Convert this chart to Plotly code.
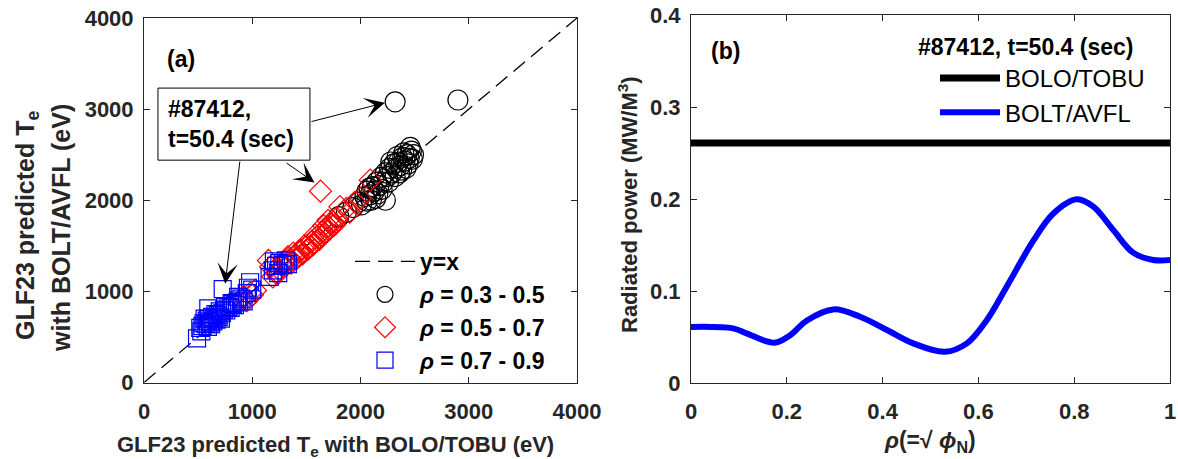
import plotly.graph_objects as go

# ---------------- data: panel (a) ----------------
line_yx = [0, 4000]

black_x = [1800, 1870, 1930, 1980, 2010, 2040, 2060, 2090, 2110, 2130, 2150, 2170, 2190, 2210, 2230,
           2250, 2270, 2290, 2310, 2330, 2350, 2370, 2390, 2410, 2430, 2450, 2470, 2490, 2460, 2400,
           2340, 2280, 2230, 2320, 2900, 2100, 2160, 2060, 2440, 2380, 2200, 2260, 2320, 2420, 2480,
           2140, 2080, 2360]
black_y = [1820, 1870, 1920, 1980, 1950, 2040, 2100, 2060, 2150, 2100, 2200, 2160, 2250, 2200, 2300,
           2260, 2350, 2300, 2400, 2350, 2420, 2380, 2470, 2430, 2500, 2460, 2540, 2500, 2580, 2520,
           2480, 2420, 2000, 3080, 3100, 2000, 2070, 1990, 2400, 2330, 2120, 2200, 2260, 2350, 2450,
           2020, 2130, 2300]

red_x = [920, 980, 1030, 950, 1000, 1150, 1170, 1190, 1220, 1250, 1280, 1300, 1320, 1350, 1370,
         1400, 1420, 1450, 1470, 1500, 1520, 1550, 1570, 1600, 1620, 1650, 1670, 1700, 1720, 1750,
         1780, 1810, 1870, 1630, 2090, 1660, 1700, 1580, 1480, 1430, 1330, 1260, 1380, 1540, 1600,
         1760, 1720, 1900, 1240, 1360, 1460, 1560, 1640, 1690, 1740, 1410, 1510, 2000, 1950]
red_y = [940, 980, 1010, 900, 960, 1340, 1270, 1160, 1200, 1240, 1280, 1330, 1290, 1360, 1330,
         1400, 1380, 1450, 1420, 1500, 1470, 1550, 1530, 1600, 1570, 1660, 1640, 1710, 1690, 1760,
         1800, 1930, 1910, 2100, 2220, 1720, 1780, 1620, 1500, 1440, 1380, 1300, 1420, 1500, 1560,
         1730, 1750, 1870, 1200, 1310, 1410, 1510, 1610, 1660, 1720, 1360, 1460, 2020, 1980]

blue_x = [490, 727, 594, 520, 540, 550, 570, 580, 600, 610, 630, 650, 660, 680, 700, 720, 740, 760,
          780, 800, 820, 840, 860, 880, 900, 920, 560, 530, 620, 690, 750, 810, 870, 950, 980, 1000,
          960, 1160, 1190, 1220, 1250, 1280, 1310, 1330, 1200, 1240, 640, 710, 590, 670]
blue_y = [485, 1025, 814, 600, 620, 650, 640, 680, 700, 660, 720, 700, 750, 740, 780, 760, 800, 790,
          830, 820, 860, 850, 880, 900, 920, 890, 700, 560, 640, 720, 830, 870, 940, 980, 1100, 1020,
          1040, 1160, 1230, 1280, 1310, 1290, 1340, 1300, 1330, 1200, 670, 700, 610, 690]

ticks_a = [0, 1000, 2000, 3000, 4000]

# ---------------- data: panel (b) ----------------
rho = [0.0, 0.088, 0.116, 0.174, 0.207, 0.242, 0.297, 0.353, 0.409, 0.464, 0.530, 0.576, 0.617,
       0.659, 0.715, 0.756, 0.805, 0.840, 0.882, 0.923, 0.965, 1.0]
p_bolt = [0.061, 0.0594, 0.054, 0.0438, 0.052, 0.068, 0.080, 0.072, 0.0576, 0.0431, 0.034, 0.0431,
          0.068, 0.1047, 0.155, 0.184, 0.1997, 0.1917, 0.166, 0.1417, 0.1337, 0.1337]
rho_bolo = [0.0, 1.0]
p_bolo = [0.261, 0.261]
ticks_bx = [0, 0.2, 0.4, 0.6, 0.8, 1]
ticks_by = [0, 0.1, 0.2, 0.3, 0.4]

FONT = "Liberation Sans, Arial, sans-serif"
AX = "#262626"
W, H = 1178, 459

def px(x):
    return x / W

def py(y):
    return 1 - y / H

fig = go.Figure()

fig.add_trace(go.Scatter(x=line_yx, y=line_yx, mode="lines", name="y=x",
                         line=dict(color="black", width=1.3, dash="15px,8px"),
                         xaxis="x", yaxis="y", legend="legend"))
fig.add_trace(go.Scatter(x=black_x, y=black_y, mode="markers", name="<i>ρ</i> = 0.3 - 0.5",
                         marker=dict(symbol="circle-open", size=20, color="black", line=dict(width=1.2)),
                         xaxis="x", yaxis="y", legend="legend"))
fig.add_trace(go.Scatter(x=red_x, y=red_y, mode="markers", name="<i>ρ</i> = 0.5 - 0.7",
                         marker=dict(symbol="diamond-open", size=17, color="red", line=dict(width=1.2)),
                         xaxis="x", yaxis="y", legend="legend"))
fig.add_trace(go.Scatter(x=blue_x, y=blue_y, mode="markers", name="<i>ρ</i> = 0.7 - 0.9",
                         marker=dict(symbol="square-open", size=17, color="blue", line=dict(width=1.2)),
                         xaxis="x", yaxis="y", legend="legend"))

fig.add_trace(go.Scatter(x=rho_bolo, y=p_bolo, mode="lines", name="BOLO/TOBU",
                         line=dict(color="black", width=7), xaxis="x2", yaxis="y2", legend="legend2"))
fig.add_trace(go.Scatter(x=rho, y=p_bolt, mode="lines", name="BOLT/AVFL", line_shape="spline",
                         line=dict(color="blue", width=6), xaxis="x2", yaxis="y2", legend="legend2"))

axcommon = dict(showline=True, linecolor=AX, linewidth=1, mirror="ticks", ticks="inside",
                ticklen=6, tickcolor=AX, showgrid=False, zeroline=False, automargin=False,
                tickfont=dict(family=FONT, size=22, color=AX, weight="bold"))

fig.update_layout(
    width=W, height=H, margin=dict(l=0, r=0, t=0, b=0, autoexpand=False),
    paper_bgcolor="white", plot_bgcolor="white",
    xaxis=dict(domain=[px(144), px(577)], range=[0, 4000], tickvals=ticks_a,
               ticklabelstandoff=9, anchor="y", **axcommon),
    yaxis=dict(domain=[py(382.5), py(18)], range=[0, 4000], tickvals=ticks_a,
               ticklabelstandoff=5, anchor="x", **axcommon),
    xaxis2=dict(domain=[px(691), px(1170)], range=[0, 1], tickvals=ticks_bx,
                ticklabelstandoff=9, anchor="y2", **axcommon),
    yaxis2=dict(domain=[py(383), py(15)], range=[0, 0.4], tickvals=ticks_by,
                ticklabelstandoff=5, anchor="x2", **axcommon),
    legend=dict(x=px(350), y=py(240), xanchor="left", yanchor="top", bgcolor="rgba(0,0,0,0)",
                font=dict(family=FONT, size=23, color="black", weight="bold"),
                itemwidth=60, tracegroupgap=0),
    legend2=dict(x=px(935), y=py(56), xanchor="left", yanchor="top", bgcolor="rgba(0,0,0,0)",
                 font=dict(family=FONT, size=24, color="black"), itemwidth=60),
    showlegend=True,
)

ann = []
tf = dict(family=FONT, size=21, color=AX, weight="bold")
tfy = dict(family=FONT, size=25, color=AX, weight="bold")
# axis titles
ann.append(dict(text="GLF23 predicted T<sub>e</sub> with BOLO/TOBU (eV)", x=px(335), y=py(430),
                xref="paper", yref="paper", xanchor="center", yanchor="top", showarrow=False,
                font=dict(family=FONT, size=22, color=AX, weight="bold")))
ann.append(dict(text="GLF23 predicted T<sub>e</sub>", x=px(27), y=py(226), textangle=-90,
                xref="paper", yref="paper", xanchor="center", yanchor="middle", showarrow=False, font=tfy))
ann.append(dict(text="with BOLT/AVFL (eV)", x=px(61), y=py(228), textangle=-90,
                xref="paper", yref="paper", xanchor="center", yanchor="middle", showarrow=False, font=tfy))
ann.append(dict(text="<i>ρ</i>(=√ <i>ϕ</i><sub>N</sub>)", x=px(930), y=py(425),
                xref="paper", yref="paper", xanchor="center", yanchor="top", showarrow=False,
                font=dict(family=FONT, size=23, color=AX, weight="bold")))
ann.append(dict(text="Radiated power (MW/M<sup>3</sup>)", x=px(628), y=py(205), textangle=-90,
                xref="paper", yref="paper", xanchor="center", yanchor="middle", showarrow=False,
                font=dict(family=FONT, size=22, color=AX, weight="bold")))
# panel labels
lf = dict(family=FONT, size=23, color="black", weight="bold")
ann.append(dict(text="(a)", x=px(181), y=py(59), xref="paper", yref="paper",
                xanchor="center", yanchor="middle", showarrow=False, font=lf))
ann.append(dict(text="(b)", x=px(725), y=py(51), xref="paper", yref="paper",
                xanchor="center", yanchor="middle", showarrow=False, font=lf))
ann.append(dict(text="#87412, t=50.4 (sec)", x=px(1025), y=py(47), xref="paper", yref="paper",
                xanchor="center", yanchor="middle", showarrow=False,
                font=dict(family=FONT, size=23, color="black", weight="bold")))
# annotation box text
ann.append(dict(text="#87412,<br>t=50.4 (sec)", x=px(166), y=py(124), xref="paper", yref="paper",
                xanchor="left", yanchor="middle", align="left", showarrow=False,
                font=dict(family=FONT, size=23, color="black", weight="bold")))
# arrows (head at x,y ; tail at ax,ay)
arr = dict(xref="x", yref="y", axref="x", ayref="y", text="", showarrow=True,
           arrowhead=3, arrowsize=3.4, arrowwidth=1, arrowcolor="black", standoff=0)
ann.append(dict(x=2225, y=3070, ax=1533, ay=2859, **arr))
ann.append(dict(x=1575, y=2195, ax=1303, ay=2420, **arr))
ann.append(dict(x=750, y=1085, ax=887, ay=2441, **arr))
fig.update_layout(annotations=ann)

fig.add_shape(type="rect", xref="x", yref="y", x0=129, x1=1533, y0=2440, y1=3231,
              line=dict(color="black", width=1), fillcolor="white", layer="above")

fig.write_html("out.html")
